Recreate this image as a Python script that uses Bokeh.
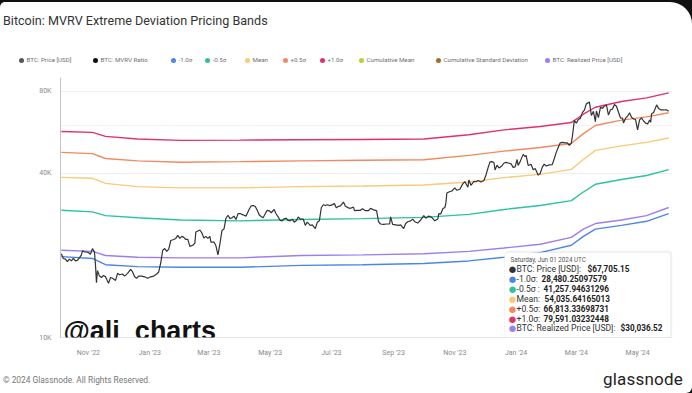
import pandas as pd
from bokeh.plotting import figure
from bokeh.layouts import column
from bokeh.models import (FixedTicker, DatetimeTickFormatter, Label, BoxAnnotation,
                          Range1d, ColumnDataSource, Div)
from bokeh.embed import file_html
from bokeh.resources import INLINE

# ---------------- data ----------------
price_dates = [
    "2022-10-05", "2022-10-07", "2022-10-09", "2022-10-11", "2022-10-13", "2022-10-15", "2022-10-17",
    "2022-10-19", "2022-10-21", "2022-10-23", "2022-10-25", "2022-10-26", "2022-10-28", "2022-10-30",
    "2022-11-01", "2022-11-03", "2022-11-05", "2022-11-07", "2022-11-08", "2022-11-09", "2022-11-10",
    "2022-11-12", "2022-11-14", "2022-11-16", "2022-11-18", "2022-11-21", "2022-11-23", "2022-11-25",
    "2022-11-28", "2022-11-30", "2022-12-02", "2022-12-05", "2022-12-07", "2022-12-10", "2022-12-13",
    "2022-12-15", "2022-12-17", "2022-12-19", "2022-12-21", "2022-12-24", "2022-12-27", "2022-12-30",
    "2023-01-02", "2023-01-05", "2023-01-08", "2023-01-10", "2023-01-12", "2023-01-14", "2023-01-16",
    "2023-01-18", "2023-01-20", "2023-01-22", "2023-01-25", "2023-01-27", "2023-01-29", "2023-01-31",
    "2023-02-02", "2023-02-04", "2023-02-06", "2023-02-08", "2023-02-10", "2023-02-13", "2023-02-15",
    "2023-02-16", "2023-02-18", "2023-02-20", "2023-02-22", "2023-02-24", "2023-02-26", "2023-02-28",
    "2023-03-02", "2023-03-03", "2023-03-06", "2023-03-08", "2023-03-10", "2023-03-12", "2023-03-14",
    "2023-03-16", "2023-03-18", "2023-03-20", "2023-03-22", "2023-03-24", "2023-03-26", "2023-03-28",
    "2023-03-30", "2023-04-01", "2023-04-04", "2023-04-07", "2023-04-10", "2023-04-12", "2023-04-14",
    "2023-04-16", "2023-04-18", "2023-04-20", "2023-04-22", "2023-04-24", "2023-04-26", "2023-04-28",
    "2023-04-30", "2023-05-02", "2023-05-05", "2023-05-07", "2023-05-09", "2023-05-11", "2023-05-13",
    "2023-05-15", "2023-05-17", "2023-05-19", "2023-05-21", "2023-05-23", "2023-05-25", "2023-05-27",
    "2023-05-29", "2023-05-31", "2023-06-03", "2023-06-05", "2023-06-07", "2023-06-10", "2023-06-12",
    "2023-06-15", "2023-06-17", "2023-06-19", "2023-06-21", "2023-06-23", "2023-06-25", "2023-06-27",
    "2023-06-29", "2023-07-01", "2023-07-04", "2023-07-06", "2023-07-08", "2023-07-10", "2023-07-13",
    "2023-07-15", "2023-07-18", "2023-07-20", "2023-07-23", "2023-07-24", "2023-07-27", "2023-07-30",
    "2023-08-01", "2023-08-04", "2023-08-07", "2023-08-09", "2023-08-12", "2023-08-15", "2023-08-17",
    "2023-08-19", "2023-08-22", "2023-08-25", "2023-08-28", "2023-08-29", "2023-08-31", "2023-09-03",
    "2023-09-06", "2023-09-08", "2023-09-11", "2023-09-13", "2023-09-15", "2023-09-18", "2023-09-20",
    "2023-09-22", "2023-09-25", "2023-09-28", "2023-10-01", "2023-10-03", "2023-10-06", "2023-10-09",
    "2023-10-12", "2023-10-15", "2023-10-16", "2023-10-18", "2023-10-20", "2023-10-22", "2023-10-23",
    "2023-10-24", "2023-10-26", "2023-10-29", "2023-11-01", "2023-11-03", "2023-11-06", "2023-11-09",
    "2023-11-11", "2023-11-14", "2023-11-15", "2023-11-17", "2023-11-20", "2023-11-22", "2023-11-24",
    "2023-11-27", "2023-11-30", "2023-12-02", "2023-12-04", "2023-12-06", "2023-12-08", "2023-12-10",
    "2023-12-11", "2023-12-13", "2023-12-15", "2023-12-18", "2023-12-20", "2023-12-22", "2023-12-25",
    "2023-12-27", "2023-12-29", "2023-12-31", "2024-01-02", "2024-01-03", "2024-01-05", "2024-01-08",
    "2024-01-10", "2024-01-11", "2024-01-13", "2024-01-16", "2024-01-18", "2024-01-20", "2024-01-23",
    "2024-01-25", "2024-01-27", "2024-01-29", "2024-01-31", "2024-02-03", "2024-02-06", "2024-02-08",
    "2024-02-10", "2024-02-12", "2024-02-14", "2024-02-16", "2024-02-19", "2024-02-21", "2024-02-23",
    "2024-02-25", "2024-02-26", "2024-02-28", "2024-03-01", "2024-03-03", "2024-03-05", "2024-03-07",
    "2024-03-09", "2024-03-11", "2024-03-14", "2024-03-16", "2024-03-18", "2024-03-20", "2024-03-21",
    "2024-03-23", "2024-03-25", "2024-03-27", "2024-03-29", "2024-03-31", "2024-04-02", "2024-04-04",
    "2024-04-06", "2024-04-08", "2024-04-10", "2024-04-12", "2024-04-14", "2024-04-16", "2024-04-17",
    "2024-04-19", "2024-04-21", "2024-04-23", "2024-04-25", "2024-04-27", "2024-04-29", "2024-05-01",
    "2024-05-03", "2024-05-05", "2024-05-07", "2024-05-09", "2024-05-11", "2024-05-13", "2024-05-14",
    "2024-05-15", "2024-05-17", "2024-05-20", "2024-05-22", "2024-05-24", "2024-05-26", "2024-05-28",
    "2024-05-30", "2024-06-01",
]
price_k = [
    20.3, 19.5, 19.4, 19.0, 19.4, 19.1, 19.5,
    19.1, 19.2, 19.6, 20.1, 20.8, 20.6, 20.6,
    20.5, 20.2, 21.2, 20.6, 18.5, 15.9, 17.6,
    16.8, 16.6, 16.9, 16.7, 15.8, 16.6, 16.5,
    16.2, 17.2, 17.0, 17.1, 16.8, 17.2, 17.8,
    17.4, 16.7, 16.5, 16.8, 16.8, 16.7, 16.5,
    16.7, 16.8, 17.1, 17.4, 18.8, 20.9, 21.2,
    20.7, 21.1, 22.7, 22.9, 23.1, 23.7, 23.1,
    23.5, 23.3, 22.9, 22.9, 21.6, 21.8, 22.2,
    24.4, 24.6, 24.8, 24.2, 23.2, 23.5, 23.1,
    23.5, 22.4, 22.4, 21.7, 20.1, 22.1, 24.7,
    25.0, 27.4, 28.1, 27.3, 27.5, 27.9, 27.1,
    28.5, 28.5, 28.2, 27.9, 29.5, 30.4, 30.5,
    30.3, 29.4, 28.2, 27.8, 27.5, 28.4, 29.3,
    29.2, 28.7, 29.5, 28.4, 27.7, 26.9, 26.8,
    27.3, 27.4, 26.9, 26.8, 27.2, 26.5, 26.8,
    27.7, 27.2, 27.2, 25.8, 26.5, 25.8, 25.9,
    25.1, 26.5, 26.8, 30.0, 30.7, 30.5, 30.7,
    30.5, 30.6, 31.0, 29.9, 30.3, 30.4, 31.4,
    30.3, 29.9, 29.8, 30.1, 29.2, 29.3, 29.3,
    29.7, 29.2, 29.2, 29.8, 29.4, 29.2, 26.6,
    26.1, 26.0, 26.1, 26.1, 27.7, 26.0, 25.9,
    25.8, 25.9, 25.1, 26.2, 26.6, 26.8, 27.2,
    26.6, 26.3, 27.0, 28.0, 27.4, 27.9, 27.6,
    26.8, 27.2, 28.5, 28.4, 29.7, 30.0, 31.0,
    33.9, 34.2, 34.5, 35.4, 34.7, 35.0, 36.7,
    37.3, 35.6, 37.9, 36.2, 37.4, 37.3, 37.7,
    37.2, 37.7, 39.5, 41.9, 44.1, 44.2, 43.8,
    41.2, 42.9, 41.9, 42.7, 43.7, 43.9, 43.6,
    43.4, 42.1, 42.3, 45.0, 42.8, 44.2, 47.0,
    46.1, 46.6, 42.8, 43.2, 41.3, 41.7, 39.5,
    40.0, 42.1, 43.3, 42.6, 43.0, 43.1, 45.3,
    47.8, 49.9, 51.8, 52.0, 51.8, 51.8, 50.7,
    51.7, 54.5, 62.5, 61.2, 63.1, 63.7, 66.9,
    68.3, 72.1, 73.1, 65.3, 67.6, 62.0, 67.8,
    64.1, 69.9, 69.4, 70.7, 71.3, 65.5, 68.5,
    68.9, 71.6, 70.6, 67.1, 63.9, 63.8, 61.3,
    63.8, 64.9, 66.8, 64.3, 63.4, 63.1, 57.8,
    62.9, 63.9, 62.3, 61.2, 60.8, 62.9, 61.6,
    66.2, 67.0, 71.4, 69.2, 68.5, 68.5, 68.4,
    68.4, 67.7,
]

band_dates = ["2022-10-05", "2022-11-05", "2022-11-18", "2022-12-20", "2023-02-01", "2023-04-01",
              "2023-06-01", "2023-08-01", "2023-10-01", "2023-11-15", "2023-12-20", "2024-01-25",
              "2024-02-25", "2024-03-08", "2024-03-20", "2024-04-15", "2024-05-10", "2024-06-01"]
plus_1_0_k = [57.0, 56.6, 54.7, 53.5, 52.9, 53.0, 53.2, 53.3, 53.5, 55.5, 57.8, 59.5, 61.5, 66.0, 70.0, 73.5, 75.8, 79.0]
plus_0_5_k = [47.8, 47.3, 45.4, 44.5, 44.0, 44.2, 44.5, 44.7, 44.9, 46.6, 48.3, 49.8, 51.5, 56.0, 60.0, 62.8, 64.5, 66.8]
mean_k = [38.7, 38.4, 36.8, 35.8, 35.4, 35.4, 35.8, 36.0, 36.3, 37.2, 38.6, 39.7, 41.4, 45.0, 48.6, 50.5, 52.0, 54.0]
minus_0_5_k = [29.3, 28.9, 28.0, 27.5, 27.0, 26.8, 27.1, 27.3, 27.6, 28.3, 29.5, 30.5, 31.8, 34.2, 36.5, 38.0, 39.3, 41.3]
realized_k = [20.9, 20.7, 20.0, 19.7, 19.6, 19.6, 20.0, 20.1, 20.3, 20.7, 21.3, 22.0, 23.3, 25.0, 26.2, 27.0, 28.0, 30.0]
minus_1_0_k = [19.8, 19.5, 18.5, 18.2, 18.1, 18.1, 18.4, 18.5, 18.7, 19.1, 19.7, 20.5, 21.8, 23.5, 25.0, 25.8, 26.7, 28.5]

x_tick_dates = ["2022-11-01", "2023-01-01", "2023-03-01", "2023-05-01", "2023-07-01",
                "2023-09-01", "2023-11-01", "2024-01-01", "2024-03-01", "2024-05-01"]
y_ticks = [10000, 40000, 80000]
y_tick_labels = ["10K", "40K", "80K"]

legend_names = ["BTC: Price [USD]", "BTC: MVRV Ratio", "-1.0σ", "-0.5σ", "Mean", "+0.5σ", "+1.0σ",
                "Cumulative Mean", "Cumulative Standard Deviation", "BTC: Realized Price [USD]"]

tooltip_date = "Saturday, Jun 01 2024 UTC"
tooltip_names = ["BTC: Price [USD]: ", "-1.0σ: ", "-0.5σ : ", "Mean: ", "+0.5σ: ", "+1.0σ: ",
                 "BTC: Realized Price [USD]: "]
tooltip_values = ["$67,705.15", "28,480.25097579", "41,257.94631296", "54,035.64165013",
                  "66,813.33698731", "79,591.03232448", "$30,036.52"]

title_text = "Bitcoin: MVRV Extreme Deviation Pricing Bands"
footer_text = "© 2024 Glassnode. All Rights Reserved."
brand_text = "glassnode"
watermark_text = "@ali_charts"

# ---------------- styling ----------------
FONT = "Roboto"
C_PRICE = "#333333"
C_M10 = "#4a86e8"
C_M05 = "#2cc39f"
C_MEAN = "#f9ca78"
C_P05 = "#f2895f"
C_P10 = "#e2306a"
C_CMEAN = "#b5d334"
C_CSTD = "#a36c2c"
C_REAL = "#9b7ff0"

legend_colors = ["#555555", "#111111", C_M10, C_M05, C_MEAN, C_P05, C_P10, C_CMEAN, C_CSTD, C_REAL]
tooltip_colors = [C_PRICE, C_M10, C_M05, C_MEAN, C_P05, C_P10, C_REAL]

price_src = ColumnDataSource(dict(date=pd.to_datetime(price_dates),
                                  price=[v * 1000 for v in price_k]))
band_src = ColumnDataSource(dict(
    date=pd.to_datetime(band_dates),
    p10=[v * 1000 for v in plus_1_0_k],
    p05=[v * 1000 for v in plus_0_5_k],
    mean=[v * 1000 for v in mean_k],
    m05=[v * 1000 for v in minus_0_5_k],
    real=[v * 1000 for v in realized_k],
    m10=[v * 1000 for v in minus_1_0_k],
))

PAGE_W = 692
TOP_H, FIG_H, BOT_H = 70, 298, 25
FRAME_L, FRAME_R, FRAME_T, FRAME_B = 60, 672, 77, 337   # page pixels

p = figure(width=PAGE_W, height=FIG_H, x_axis_type="datetime", y_axis_type="log",
           x_range=Range1d(pd.Timestamp("2022-10-04 04:00"), pd.Timestamp("2024-06-04 19:00")),
           y_range=Range1d(10000, 90000),
           output_backend="svg", toolbar_location=None,
           min_border_left=FRAME_L, min_border_right=PAGE_W - FRAME_R,
           min_border_top=FRAME_T - TOP_H, min_border_bottom=TOP_H + FIG_H - FRAME_B,
           margin=(0, 0, 0, 0))
p.outline_line_color = None
p.background_fill_color = "white"
p.border_fill_color = "white"

# axes
p.xaxis.ticker = FixedTicker(ticks=[pd.Timestamp(d).value / 1e6 for d in x_tick_dates])
p.xaxis.formatter = DatetimeTickFormatter(months="%b '%y", days="%b '%y", years="%b '%y")
p.yaxis.ticker = FixedTicker(ticks=y_ticks, minor_ticks=[60000])
p.yaxis.major_label_overrides = {t: l for t, l in zip(y_ticks, y_tick_labels)}
for ax in (p.xaxis[0], p.yaxis[0]):
    ax.major_tick_line_color = None
    ax.minor_tick_line_color = None
    ax.major_tick_out = 0
    ax.major_tick_in = 0
    ax.minor_tick_out = 0
    ax.minor_tick_in = 0
    ax.major_label_text_font = FONT
    ax.major_label_text_font_size = "7px"
    ax.major_label_text_color = "#8a8a8a"
p.xaxis.axis_line_color = "#e6e6e6"
p.yaxis.axis_line_color = "#c4c4c4"
p.yaxis.major_label_standoff = 9
p.xaxis.major_label_standoff = 11
p.xgrid.grid_line_color = None
p.ygrid.grid_line_color = "#efefef"
p.ygrid.minor_grid_line_color = "#f3f3f3"

# series
LW = 1.4
p.line("date", "m10", source=band_src, color=C_M10, line_width=LW)
p.line("date", "real", source=band_src, color=C_REAL, line_width=LW)
p.line("date", "m05", source=band_src, color=C_M05, line_width=LW)
p.line("date", "mean", source=band_src, color=C_MEAN, line_width=LW)
p.line("date", "p05", source=band_src, color=C_P05, line_width=LW)
p.line("date", "p10", source=band_src, color=C_P10, line_width=LW)
p.line("date", "price", source=price_src, color=C_PRICE, line_width=1.2)


def lab(x, y, text, size, color, style="normal", align="left", baseline="middle", font=FONT):
    """Label placed at a page-pixel position (converted to frame-relative screen units)."""
    p.add_layout(Label(x=x - FRAME_L, y=FRAME_B - y, x_units="screen", y_units="screen", text=text,
                       text_font=font, text_font_size=f"{size}px", text_color=color,
                       text_font_style=style, text_align=align, text_baseline=baseline))


# watermark
lab(63, 330, watermark_text, 27, "#111111", style="bold", baseline="alphabetic", font="Liberation Sans")

# tooltip (shadow + box)
p.add_layout(BoxAnnotation(left=505 - FRAME_L, right=672 - FRAME_L, top=FRAME_B - 250, bottom=0,
                           left_units="screen", right_units="screen", top_units="screen",
                           bottom_units="screen", fill_color="#000000", fill_alpha=0.05,
                           line_color=None, border_radius=4))
p.add_layout(BoxAnnotation(left=504 - FRAME_L, right=670 - FRAME_L, top=FRAME_B - 252, bottom=0,
                           left_units="screen", right_units="screen", top_units="screen",
                           bottom_units="screen", fill_color="white", fill_alpha=1.0,
                           line_color="#dedede", line_width=1, border_radius=3))
lab(510, 259, tooltip_date, 6.3, "#555555")
bold_x = [587, 541, 543, 544, 543, 543, 620]
for i, (nm, val, col, bx) in enumerate(zip(tooltip_names, tooltip_values, tooltip_colors, bold_x)):
    y = 268.5 + i * 9.9
    lab(512, y, "●", 8.5, col, font="DejaVu Sans", align="center")
    lab(516, y, nm, 8.6, "#333333")
    lab(bx, y, val, 8.2, "#222222", style="bold")

# ---------------- header (title + legend) and footer ----------------
legend_x = [21, 95, 173, 207, 247, 285, 322, 361, 438, 547]
items = []
for xd, name, col in zip(legend_x, legend_names, legend_colors):
    items.append(
        f'<div style="position:absolute;left:{xd - 2.5}px;top:55px;height:10px;line-height:10px;'
        f'white-space:nowrap;font-size:6.2px;color:#6f6f6f;">'
        f'<span style="display:inline-block;width:5px;height:5px;border-radius:50%;background:{col};'
        f'vertical-align:middle;margin-right:3px;"></span>'
        f'<span style="vertical-align:middle;">{name}</span></div>')
header_html = (
    f'<div style="position:relative;width:{PAGE_W}px;height:{TOP_H}px;background:#111;'
    f'font-family:{FONT},sans-serif;overflow:hidden;">'
    f'<div style="position:absolute;left:0;top:2px;width:{PAGE_W}px;height:{TOP_H}px;background:#fff;'
    f'border-top-left-radius:5px;border-top-right-radius:22px;"></div>'
    f'<div style="position:absolute;left:3px;top:12px;line-height:18px;font-size:12.6px;color:#333;'
    f'white-space:nowrap;">{title_text}</div>' + "".join(items) + '</div>')
footer_html = (
    f'<div style="position:relative;width:{PAGE_W}px;height:{BOT_H}px;background:#111;'
    f'font-family:{FONT},sans-serif;overflow:hidden;">'
    f'<div style="position:absolute;left:0;top:0;width:{PAGE_W}px;height:{BOT_H}px;background:#fff;'
    f'border-bottom-right-radius:6px;"></div>'
    f'<div style="position:absolute;left:3px;top:6px;line-height:12px;font-size:8.4px;color:#777;'
    f'white-space:nowrap;">{footer_text}</div>'
    f'<div style="position:absolute;right:9px;top:1px;line-height:20px;font-size:17px;color:#222;'
    f'white-space:nowrap;letter-spacing:0.2px;">{brand_text}</div></div>')

header = Div(text=header_html, width=PAGE_W, height=TOP_H, margin=(0, 0, 0, 0))
footer = Div(text=footer_html, width=PAGE_W, height=BOT_H, margin=(0, 0, 0, 0))

layout = column(header, p, footer, spacing=0, margin=(0, 0, 0, 0))
open("out.html", "w").write(file_html(layout, INLINE))
